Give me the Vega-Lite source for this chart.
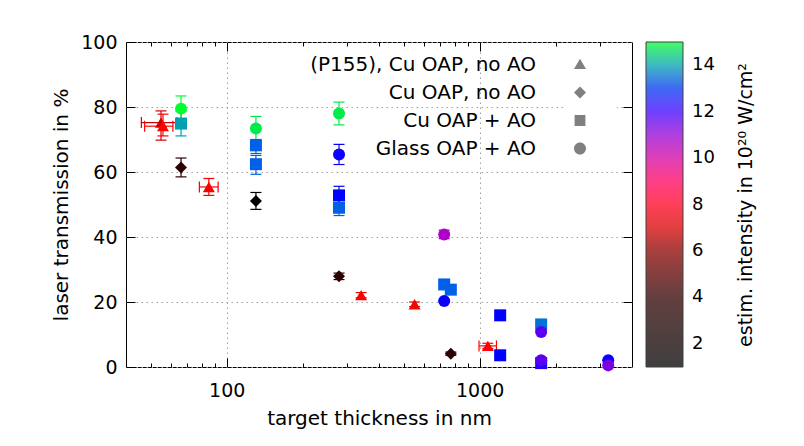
{
  "$schema": "https://vega.github.io/schema/vega-lite/v6.json",
  "width": 506,
  "height": 325,
  "autosize": {"type": "none"},
  "padding": {"left": 126, "top": 42, "right": 172, "bottom": 79},
  "config": {
    "view": {"stroke": "black", "strokeWidth": 1},
    "font": "DejaVu Sans",
    "axis": {
      "labelFont": "DejaVu Sans", "titleFont": "DejaVu Sans",
      "labelFontSize": 19, "titleFontSize": 20,
      "labelColor": "black", "titleColor": "black", "titleFontWeight": "normal",
      "tickColor": "black", "tickWidth": 1, "domain": false, "grid": false
    },
    "legend": {"labelFont": "DejaVu Sans", "titleFont": "DejaVu Sans", "labelColor": "black", "titleColor": "black"}
  },
  "data": {"values": [
    {"s": "(P155), Cu OAP, no AO", "t": 55, "v": 75.2, "lo": 69.8, "hi": 78.8, "tlo": 46, "thi": 63.7, "I": 6.9},
    {"s": "(P155), Cu OAP, no AO", "t": 56, "v": 74.1, "lo": 71.1, "hi": 77.8, "tlo": 47.4, "thi": 61.3, "I": 7.5},
    {"s": "(P155), Cu OAP, no AO", "t": 85, "v": 55.4, "lo": 52.8, "hi": 58.0, "tlo": 78, "thi": 92.5, "I": 7.4},
    {"s": "(P155), Cu OAP, no AO", "t": 340, "v": 22.1, "lo": 21.3, "hi": 22.9, "tlo": 340, "thi": 340, "I": 7.5},
    {"s": "(P155), Cu OAP, no AO", "t": 553, "v": 19.3, "lo": 18.6, "hi": 20.0, "tlo": 553, "thi": 553, "I": 7.4},
    {"s": "(P155), Cu OAP, no AO", "t": 1077, "v": 6.5, "lo": 5.7, "hi": 7.3, "tlo": 994, "thi": 1165, "I": 7.6},
    {"s": "Cu OAP, no AO", "t": 66, "v": 61.4, "lo": 58.5, "hi": 64.3, "tlo": 66, "thi": 66, "I": 3.7},
    {"s": "Cu OAP, no AO", "t": 130.5, "v": 51.1, "lo": 48.5, "hi": 53.7, "tlo": 130.5, "thi": 130.5, "I": 1.3},
    {"s": "Cu OAP, no AO", "t": 278, "v": 27.9, "lo": 26.9, "hi": 28.9, "tlo": 278, "thi": 278, "I": 3.7},
    {"s": "Cu OAP, no AO", "t": 769, "v": 4.1, "lo": 3.6, "hi": 4.6, "tlo": 769, "thi": 769, "I": 3.7},
    {"s": "Cu OAP + AO", "t": 66, "v": 74.9, "lo": 71.1, "hi": 78.7, "tlo": 66, "thi": 66, "I": 14.0},
    {"s": "Cu OAP + AO", "t": 130.5, "v": 68.2, "lo": 65.7, "hi": 70.0, "tlo": 130.5, "thi": 130.5, "I": 13.3},
    {"s": "Cu OAP + AO", "t": 130.5, "v": 62.4, "lo": 59.3, "hi": 65.1, "tlo": 130.5, "thi": 130.5, "I": 13.3},
    {"s": "Cu OAP + AO", "t": 278, "v": 52.8, "lo": 50.5, "hi": 55.6, "tlo": 278, "thi": 278, "I": 12.6},
    {"s": "Cu OAP + AO", "t": 278, "v": 49.0, "lo": 46.6, "hi": 51.4, "tlo": 278, "thi": 278, "I": 13.3},
    {"s": "Cu OAP + AO", "t": 724, "v": 25.4, "lo": 25.4, "hi": 25.4, "tlo": 724, "thi": 724, "I": 13.3},
    {"s": "Cu OAP + AO", "t": 769, "v": 23.8, "lo": 23.8, "hi": 23.8, "tlo": 769, "thi": 769, "I": 13.3},
    {"s": "Cu OAP + AO", "t": 1205, "v": 15.9, "lo": 15.9, "hi": 15.9, "tlo": 1205, "thi": 1205, "I": 12.6},
    {"s": "Cu OAP + AO", "t": 1205, "v": 3.6, "lo": 3.6, "hi": 3.6, "tlo": 1205, "thi": 1205, "I": 12.6},
    {"s": "Cu OAP + AO", "t": 1750, "v": 13.1, "lo": 13.1, "hi": 13.1, "tlo": 1750, "thi": 1750, "I": 13.5},
    {"s": "Cu OAP + AO", "t": 1750, "v": 1.2, "lo": 1.2, "hi": 1.2, "tlo": 1750, "thi": 1750, "I": 12.3},
    {"s": "Glass OAP + AO", "t": 66, "v": 79.5, "lo": 75.6, "hi": 83.4, "tlo": 66, "thi": 66, "I": 15.0},
    {"s": "Glass OAP + AO", "t": 130.5, "v": 73.4, "lo": 69.7, "hi": 77.1, "tlo": 130.5, "thi": 130.5, "I": 14.8},
    {"s": "Glass OAP + AO", "t": 278, "v": 78.0, "lo": 74.5, "hi": 81.5, "tlo": 278, "thi": 278, "I": 14.8},
    {"s": "Glass OAP + AO", "t": 278, "v": 65.4, "lo": 62.3, "hi": 68.5, "tlo": 278, "thi": 278, "I": 12.5},
    {"s": "Glass OAP + AO", "t": 724, "v": 40.8, "lo": 39.5, "hi": 42.1, "tlo": 724, "thi": 724, "I": 10.7},
    {"s": "Glass OAP + AO", "t": 724, "v": 20.3, "lo": 20.3, "hi": 20.3, "tlo": 724, "thi": 724, "I": 12.5},
    {"s": "Glass OAP + AO", "t": 1750, "v": 10.8, "lo": 10.8, "hi": 10.8, "tlo": 1750, "thi": 1750, "I": 11.7},
    {"s": "Glass OAP + AO", "t": 1750, "v": 2.1, "lo": 2.1, "hi": 2.1, "tlo": 1750, "thi": 1750, "I": 11.7},
    {"s": "Glass OAP + AO", "t": 3222, "v": 2.1, "lo": 2.1, "hi": 2.1, "tlo": 3222, "thi": 3222, "I": 12.5},
    {"s": "Glass OAP + AO", "t": 3222, "v": 0.5, "lo": 0.5, "hi": 0.5, "tlo": 3222, "thi": 3222, "I": 11.3}
  ]},
  "layer": [
    {
      "mark": {"type": "rule", "strokeWidth": 1.2},
      "encoding": {
        "x": {"field": "t", "type": "quantitative", "scale": {"type": "log", "domain": [40, 4000], "nice": false},
          "axis": {"orient": "bottom", "values": [100, 1000], "format": "d", "tickSize": -9, "labelPadding": 23, "grid": true, "gridDash": [1.5, 3.5], "gridColor": "#a0a0a0", "title": "target thickness in nm", "titlePadding": 8}},
        "y": {"field": "lo", "type": "quantitative", "scale": {"domain": [0, 100], "nice": false, "zero": false},
          "axis": {"orient": "left", "values": [0, 20, 40, 60, 80, 100], "tickSize": -9, "labelPadding": 18, "grid": true, "gridDash": [1.5, 3.5], "gridColor": "#a0a0a0", "title": "laser transmission in %", "titlePadding": 9}},
        "y2": {"field": "hi"},
        "stroke": {"field": "I", "type": "quantitative", "legend": null,
          "scale": {"domain": [0.99, 4, 6, 7.5, 9, 10.5, 12, 12.6, 13.3, 14, 15.01], "range": ["#000000", "#300000", "#8a0000", "#ff0000", "#ff0060", "#c000c0", "#4000ff", "#0000ff", "#0060e8", "#00a0b0", "#00ff30"], "interpolate": "rgb"}}
      }
    },
    {
      "transform": [{"filter": "datum.thi > datum.tlo"}],
      "mark": {"type": "rule", "strokeWidth": 1.2},
      "encoding": {
        "x": {"field": "tlo", "type": "quantitative", "scale": {"type": "log", "domain": [40, 4000], "nice": false},
          "axis": {"orient": "bottom", "values": [50, 60, 70, 80, 90, 200, 300, 400, 500, 600, 700, 800, 900, 2000, 3000], "labels": false, "tickSize": -4, "grid": false, "title": null}},
        "x2": {"field": "thi"},
        "y": {"field": "v", "type": "quantitative", "scale": {"domain": [0, 100], "nice": false, "zero": false},
          "axis": {"orient": "right", "values": [20, 40, 60, 80], "labels": false, "tickSize": -9, "grid": false, "title": null}},
        "stroke": {"field": "I", "type": "quantitative", "legend": null}
      }
    },
    {
      "mark": {"type": "point", "filled": false, "shape": "M-1,0H1", "size": 121, "strokeWidth": 1.2, "opacity": 1},
      "encoding": {
        "x": {"field": "t", "type": "quantitative", "scale": {"type": "log", "domain": [40, 4000], "nice": false},
          "axis": {"orient": "top", "values": [100, 1000], "labels": false, "tickSize": -9, "grid": false, "title": null}},
        "y": {"field": "lo", "type": "quantitative", "scale": {"domain": [0, 100], "nice": false, "zero": false}, "axis": null},
        "stroke": {"field": "I", "type": "quantitative", "legend": null}
      }
    },
    {
      "mark": {"type": "point", "filled": false, "shape": "M-1,0H1", "size": 121, "strokeWidth": 1.2, "opacity": 1},
      "encoding": {
        "x": {"field": "t", "type": "quantitative", "scale": {"type": "log", "domain": [40, 4000], "nice": false},
          "axis": {"orient": "top", "values": [50, 60, 70, 80, 90, 200, 300, 400, 500, 600, 700, 800, 900, 2000, 3000], "labels": false, "tickSize": -4, "grid": false, "title": null}},
        "y": {"field": "hi", "type": "quantitative", "scale": {"domain": [0, 100], "nice": false, "zero": false}, "axis": null},
        "stroke": {"field": "I", "type": "quantitative", "legend": null}
      }
    },
    {
      "transform": [{"filter": "datum.thi > datum.tlo"}],
      "mark": {"type": "point", "filled": false, "shape": "M0,-1V1", "size": 121, "strokeWidth": 1.2, "opacity": 1},
      "encoding": {
        "x": {"field": "tlo", "type": "quantitative", "scale": {"type": "log", "domain": [40, 4000], "nice": false}, "axis": null},
        "y": {"field": "v", "type": "quantitative", "scale": {"domain": [0, 100], "nice": false, "zero": false}, "axis": null},
        "stroke": {"field": "I", "type": "quantitative", "legend": null}
      }
    },
    {
      "transform": [{"filter": "datum.thi > datum.tlo"}],
      "mark": {"type": "point", "filled": false, "shape": "M0,-1V1", "size": 121, "strokeWidth": 1.2, "opacity": 1},
      "encoding": {
        "x": {"field": "thi", "type": "quantitative", "scale": {"type": "log", "domain": [40, 4000], "nice": false}, "axis": null},
        "y": {"field": "v", "type": "quantitative", "scale": {"domain": [0, 100], "nice": false, "zero": false}, "axis": null},
        "stroke": {"field": "I", "type": "quantitative", "legend": null}
      }
    },
    {
      "mark": {"type": "point", "filled": true, "size": 144, "opacity": 1},
      "encoding": {
        "x": {"field": "t", "type": "quantitative", "scale": {"type": "log", "domain": [40, 4000], "nice": false}, "axis": null},
        "y": {"field": "v", "type": "quantitative", "scale": {"domain": [0, 100], "nice": false, "zero": false}, "axis": null},
        "shape": {"field": "s", "type": "nominal",
          "scale": {"range": ["triangle-up", "square", "diamond", "circle"]},
          "legend": null},
        "color": {"field": "I", "type": "quantitative",
          "scale": {"domain": [1, 4, 6, 7.5, 9, 10.5, 12, 12.6, 13.3, 14, 15], "range": ["#000000", "#300000", "#8a0000", "#ff0000", "#ff0060", "#c000c0", "#4000ff", "#0000ff", "#0060e8", "#00a0b0", "#00ff30"], "interpolate": "rgb"},
          "legend": {
            "type": "gradient", "orient": "none", "legendX": 520, "legendY": 0, "direction": "vertical", "padding": 0,
            "gradientLength": 325, "gradientThickness": 37, "gradientStrokeColor": "black", "gradientStrokeWidth": 1, "gradientOpacity": 0.75,
            "values": [2, 4, 6, 8, 10, 12, 14], "labelFontSize": 18, "labelOffset": 9,
            "title": "estim. intensity in 10²⁰ W/cm²", "titleOrient": "right", "titleAnchor": "middle", "titleBaseline": "top",
            "titleFontSize": 19, "titleFontWeight": "normal", "titlePadding": 22, "titleLimit": 0,
            "encode": {"title": {"update": {"angle": {"value": 270}}}}
          }}
      }
    },
    {
      "transform": [{"filter": "false"}],
      "mark": {"type": "point", "filled": true, "size": 144, "color": "#808080", "stroke": "#808080", "strokeWidth": 1.3, "opacity": 1},
      "encoding": {
        "x": {"field": "t", "type": "quantitative", "scale": {"type": "log", "domain": [40, 4000], "nice": false}, "axis": null},
        "y": {"field": "v", "type": "quantitative", "scale": {"domain": [0, 100], "nice": false, "zero": false}, "axis": null},
        "shape": {"field": "s", "type": "nominal",
          "scale": {"domain": ["(P155), Cu OAP, no AO", "Cu OAP, no AO", "Cu OAP + AO", "Glass OAP + AO"],
            "range": ["M-5,0H5M-5,-0.5V0.5M5,-0.5V0.5M0,-0.95L1,0.75H-1Z", "M-5,0H5M-5,-0.5V0.5M5,-0.5V0.5M0,-1L1,0L0,1L-1,0Z", "M-5,0H5M-5,-0.5V0.5M5,-0.5V0.5M-0.9,-0.9H0.9V0.9H-0.9Z", "M-5,0H5M-5,-0.5V0.5M5,-0.5V0.5M1,0A1,1,0,1,1,-1,0A1,1,0,1,1,1,0Z"]},
          "legend": {
            "orient": "none", "legendX": 440, "legendY": 8.5, "title": null,
            "labelFontSize": 20, "labelAlign": "right", "labelOffset": -54, "labelLimit": 0,
            "symbolSize": 144, "symbolFillColor": "#808080", "symbolStrokeColor": "#808080", "symbolStrokeWidth": 1.3, "symbolOpacity": 1,
            "rowPadding": 8, "fillColor": "white", "padding": 4,
            "encode": {"symbols": {"update": {"stroke": {"value": "#808080"}, "strokeWidth": {"value": 1.3}, "fill": {"value": "#808080"}}}}
          }}
      }
    }
  ],
  "resolve": {"axis": {"x": "independent", "y": "independent"}, "scale": {"shape": "independent"}}
}
